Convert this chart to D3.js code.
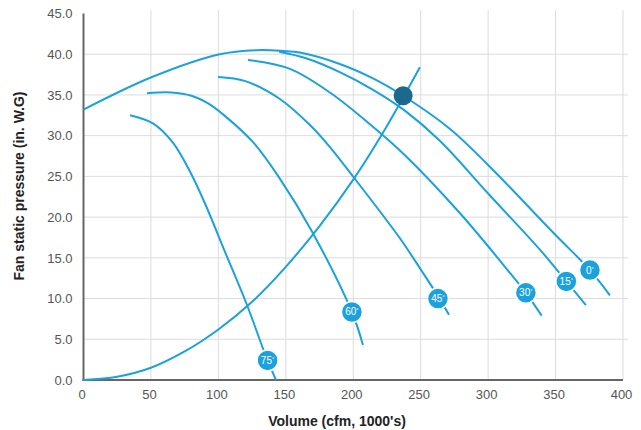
<!DOCTYPE html>
<html lang="en">
<head>
<meta charset="utf-8">
<title>Fan curves</title>
<script src="https://cdn.jsdelivr.net/npm/d3@7"></script>
<style>
  body { margin: 0; background: #fff; }
  svg { font-family: "Liberation Sans", Arial, Helvetica, sans-serif; }
</style>
</head>
<body>
<script>
// Volume (cfm, 1000's) vs pressure (in. W.G), one list per blade angle
var curve0  = [[0,33.2],[50.8,37.2],[101,40.0],[128.6,40.5],[148,40.4],[160.5,40.2],[190,38.8],[215,37.0],[237,34.9],[272,30.8],[300,26.4],[350,17.8],[375.5,13.5],[390.3,10.4]];
var curve15 = [[145,40.3],[165,39.5],[190,37.8],[215,35.6],[238,33.1],[264,29.4],[300,22.9],[340,15.7],[358,12.1],[372.5,9.2]];
var curve30 = [[121.9,39.3],[153,38.2],[182.7,35.3],[212.4,31.4],[238.3,27.6],[279,20.5],[317.4,12.9],[328,10.7],[339.7,7.9]];
var curve45 = [[99.7,37.2],[120,36.7],[145.6,34.5],[167.9,31.3],[182.7,28.6],[199.8,25.0],[234.6,17.4],[250.7,13.4],[262.8,10.3],[271,8.0]];
var curve60 = [[47.1,35.2],[65,35.3],[80,34.9],[93,33.9],[105,32.4],[125.7,29.2],[145.7,24.7],[169.2,18.3],[199,8.35],[207.2,4.3]];
var curve75 = [[34.5,32.5],[51.5,31.5],[66,29.2],[78,25.9],[90,21.7],[105,15.7],[121,9.3],[133,3.9],[136.5,2.4],[142.7,0]];
var systemCurve = [[0,0],[25,0.4],[50,1.5],[75,3.5],[100,6.2],[125,9.6],[150,13.9],[175,18.9],[200,24.6],[225,31.2],[249.4,38.4]];

var angleLabels = ["0", "15", "30", "45", "60", "75"];
var labelVolume = [375.5, 358, 328, 262.8, 199, 136.5];
var labelPressure = [13.5, 12.1, 10.7, 10.0, 8.35, 2.4];

var operatingPoint = [237, 34.9];

var xTicks = [0, 50, 100, 150, 200, 250, 300, 350, 400];
var yTicks = [0, 5, 10, 15, 20, 25, 30, 35, 40, 45];

var w = 641, h = 430;
var lineColor = "#1ba2dc";

var x = d3.scaleLinear().domain([0, 400]).range([83.5, 623]);
var y = d3.scaleLinear().domain([0, 45]).range([380, 13.5]);

var svg = d3.select("body").append("svg")
    .attr("width", w)
    .attr("height", h);

// grid
svg.append("g").selectAll("line")
    .data(xTicks.slice(1))
    .enter().append("line")
    .attr("x1", function(d) { return x(d); })
    .attr("x2", function(d) { return x(d); })
    .attr("y1", 10)
    .attr("y2", y(0))
    .attr("stroke", "#dcdcdc")
    .attr("stroke-width", 1);

svg.append("g").selectAll("line")
    .data(yTicks.slice(1, -1))
    .enter().append("line")
    .attr("x1", x(0))
    .attr("x2", 628)
    .attr("y1", function(d) { return y(d); })
    .attr("y2", function(d) { return y(d); })
    .attr("stroke", "#dcdcdc")
    .attr("stroke-width", 1);

// axes (labels only)
var xAxis = d3.axisBottom(x).tickValues(xTicks).tickSize(0).tickPadding(10)
    .tickFormat(d3.format("d"));
var yAxis = d3.axisLeft(y).tickValues(yTicks).tickSize(0).tickPadding(11)
    .tickFormat(d3.format(".1f"));

var gx = svg.append("g")
    .attr("transform", "translate(0," + y(0) + ")")
    .call(xAxis);
var gy = svg.append("g")
    .attr("transform", "translate(" + x(0) + ",0)")
    .call(yAxis);

[gx, gy].forEach(function(g) {
    g.select(".domain").remove();
    g.selectAll("text")
        .attr("font-family", "Liberation Sans, Arial, sans-serif")
        .attr("font-size", "13px")
        .attr("fill", "#555");
});
gx.selectAll("text").attr("dx", "-2");

// axis lines
svg.append("line")
    .attr("x1", x(0)).attr("x2", x(0))
    .attr("y1", y(45)).attr("y2", y(0) + 1)
    .attr("stroke", "#666").attr("stroke-width", 2);
svg.append("line")
    .attr("x1", x(0) - 1).attr("x2", x(400))
    .attr("y1", y(0)).attr("y2", y(0))
    .attr("stroke", "#666").attr("stroke-width", 2);

// curves
var line = d3.line()
    .x(function(d) { return x(d[0]); })
    .y(function(d) { return y(d[1]); })
    .curve(d3.curveCatmullRom.alpha(0.5));

var curves = [curve0, curve15, curve30, curve45, curve60, curve75, systemCurve];

svg.append("g").selectAll("path")
    .data(curves)
    .enter().append("path")
    .attr("d", line)
    .attr("fill", "none")
    .attr("stroke", lineColor)
    .attr("stroke-width", 2);

// operating point
svg.append("circle")
    .attr("cx", x(operatingPoint[0]))
    .attr("cy", y(operatingPoint[1]))
    .attr("r", 9.5)
    .attr("fill", "#1b6a8d");

// angle badges
var badges = svg.append("g").selectAll("g")
    .data(angleLabels)
    .enter().append("g")
    .attr("transform", function(d, i) {
        return "translate(" + x(labelVolume[i]) + "," + y(labelPressure[i]) + ")";
    });

badges.append("circle")
    .attr("r", 10.5)
    .attr("fill", lineColor)
    .attr("stroke", "#fff")
    .attr("stroke-width", 1.5);

var bt = badges.append("text")
    .attr("text-anchor", "middle")
    .attr("y", 3.5)
    .attr("font-size", "10px")
    .attr("fill", "#fff");
bt.append("tspan").text(function(d) { return d; });
bt.append("tspan")
    .attr("font-size", "6px")
    .attr("dy", "-3")
    .text("°");

// titles
svg.append("text")
    .attr("x", 337)
    .attr("y", 426)
    .attr("text-anchor", "middle")
    .attr("font-size", "14px")
    .attr("font-weight", "bold")
    .attr("fill", "#222")
    .text("Volume (cfm, 1000's)");

svg.append("text")
    .attr("transform", "translate(24,186) rotate(-90)")
    .attr("text-anchor", "middle")
    .attr("font-size", "14px")
    .attr("font-weight", "bold")
    .attr("fill", "#222")
    .text("Fan static pressure (in. W.G)");
</script>
</body>
</html>
